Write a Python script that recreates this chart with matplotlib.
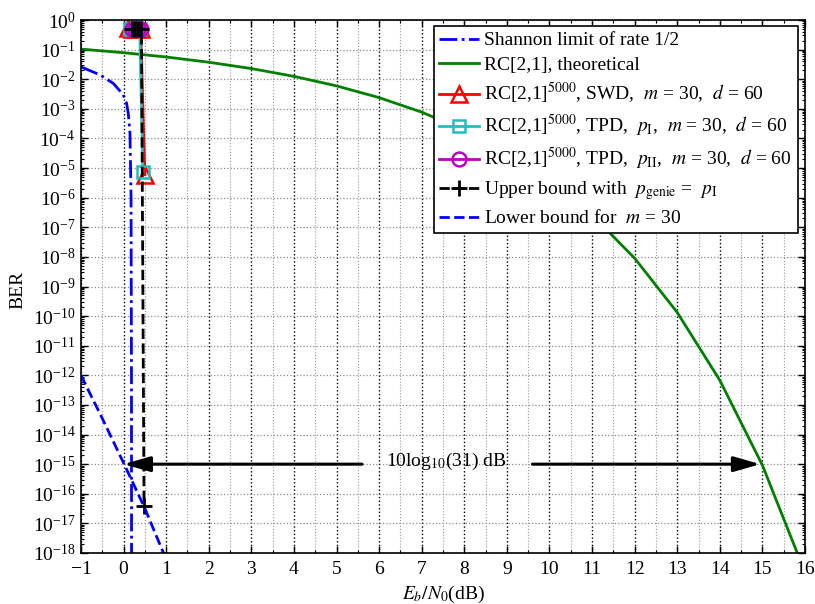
import numpy as np
import matplotlib
matplotlib.use("Agg")
import matplotlib.pyplot as plt
import matplotlib.ticker as ticker

# ---- data ----
# Shannon limit of rate 1/2
shannon_x = [-1.0, -0.55, -0.24, -0.01, 0.07, 0.11, 0.15, 0.175, 0.185, 0.187]
shannon_y = [2.6e-2, 1.4e-2, 7.2e-3, 3.0e-3, 1.55e-3, 7.0e-4, 1.5e-4, 1.0e-6, 1.0e-12, 1.0e-19]

# RC[2,1], theoretical
theo_x = [-1, 0, 1, 2, 3, 4, 5, 6, 7, 8, 9, 10, 11, 12, 13, 14, 15, 16]
theo_y = [0.104, 0.0786, 0.0563, 0.0375, 0.0229, 0.0125, 5.95e-3, 2.39e-3, 7.73e-4,
          1.91e-4, 3.36e-5, 3.87e-6, 2.61e-7, 9.0e-9, 1.33e-10, 6.8e-13, 9.2e-16, 2.2e-19]

# RC[2,1]^5000 SWD
swd_x = [0.1, 0.2, 0.3, 0.4, 0.5]
swd_y = [0.52, 0.5, 0.5, 0.48, 6.0e-6]

# RC[2,1]^5000 TPD, p_I
tpd1_x = [0.15, 0.22, 0.3, 0.38, 0.45]
tpd1_y = [0.5, 0.5, 0.5, 0.48, 7.5e-6]

# RC[2,1]^5000 TPD, p_II
tpd2_x = [0.2, 0.27, 0.35, 0.42]
tpd2_y = [0.5, 0.5, 0.5, 0.5]

# upper bound with p_genie = p_I
ub_x = [0.2, 0.27, 0.35, 0.42, 0.48]
ub_y = [0.5, 0.5, 0.5, 0.5, 4.0e-17]

# lower bound for m = 30
lb_x = [-1.0, -0.5, 0.0, 0.5, 1.0]
lb_y = [1.0e-12, 3.5e-14, 1.1e-15, 3.2e-17, 6.0e-19]

arrow_y = 1e-15
arrow_left = (5.6, 0.0)
arrow_right = (9.6, 14.95)

plt.rcParams['font.family'] = ['Liberation Serif', 'DejaVu Serif']
plt.rcParams['mathtext.fontset'] = 'stix'

fig = plt.figure(figsize=(8.15, 6.04), dpi=100)
ax = fig.add_axes([81/815, 51/604, 724/815, 533/604])

ax.plot(shannon_x, shannon_y, color='#0000ff', ls='-.', lw=2,
        label='Shannon limit of rate 1/2')
ax.plot(theo_x, theo_y, color='#008000', ls='-', lw=2,
        label='RC[2,1], theoretical')
ax.plot(swd_x, swd_y, color='#ff0000', ls='-', lw=2, marker='^', ms=11,
        mfc='none', mew=1.8,
        label=r'RC[2,1]$^{5000}$, SWD,  $m$ = 30,  $d$ = 60')
ax.plot(tpd1_x, tpd1_y, color='#1fbfbf', ls='-', lw=2, marker='s', ms=9,
        mfc='none', mew=1.8,
        label=r'RC[2,1]$^{5000}$, TPD,  $p_{\rm I}$,  $m$ = 30,  $d$ = 60')
ax.plot(tpd2_x, tpd2_y, color='#bf00bf', ls='-', lw=2, marker='o', ms=10,
        mfc='none', mew=1.8,
        label=r'RC[2,1]$^{5000}$, TPD,  $p_{\rm II}$,  $m$ = 30,  $d$ = 60')
ax.plot(ub_x, ub_y, color='k', ls='--', lw=2, marker='+', ms=12, mew=2,
        label=r'Upper bound with  $p_{\rm genie}$ =  $p_{\rm I}$')
ax.plot(lb_x, lb_y, color='#0000ff', ls='--', lw=2,
        label=r'Lower bound for  $m$ = 30')

# 10log10(31) dB arrows
aprops = dict(arrowstyle='-|>,head_length=1.15,head_width=0.33', lw=2.2,
              color='k', mutation_scale=14, shrinkA=0, shrinkB=0)
ax.annotate('', xy=(arrow_left[1], arrow_y), xytext=(arrow_left[0], arrow_y),
            arrowprops=aprops)
ax.annotate('', xy=(arrow_right[1], arrow_y), xytext=(arrow_right[0], arrow_y),
            arrowprops=aprops)
ax.text(7.57, 8.5e-16, r'10log$_{10}$(31) dB', ha='center', va='baseline',
        fontsize=14)

ax.set_yscale('log')
ax.set_xlim(-1, 16)
ax.set_ylim(1e-18, 1)
ax.xaxis.set_major_locator(ticker.MultipleLocator(1))
ax.xaxis.set_minor_locator(ticker.MultipleLocator(0.5))
ax.yaxis.set_major_locator(ticker.LogLocator(base=10, numticks=30))
ax.yaxis.set_minor_locator(ticker.LogLocator(base=10, subs=np.arange(2, 10), numticks=30))
ax.yaxis.set_minor_formatter(ticker.NullFormatter())

ax.tick_params(which='both', direction='in', top=True, right=True, labelsize=14)
ax.tick_params(which='major', length=5, width=1)
ax.tick_params(which='minor', length=2.5, width=0.8)
ax.tick_params(axis='x', pad=6)
ax.tick_params(axis='y', pad=4)
for sp in ax.spines.values():
    sp.set_linewidth(1.2)

ax.grid(which='major', axis='x', color='k', ls=':', lw=1)
ax.grid(which='minor', axis='x', color='0.6', ls=':', lw=0.8)
ax.grid(which='major', axis='y', color='0.55', ls=':', lw=0.9)

ax.set_xlabel(r'$E_b/N_0$(dB)', fontsize=14)
ax.set_ylabel('BER', fontsize=14)
ax.xaxis.set_label_coords(0.501, -0.058)
ax.yaxis.set_label_coords(-0.075, 0.493)

leg = ax.legend(loc='upper right', bbox_to_anchor=(0.990, 0.989), fontsize=14,
                numpoints=1, handlelength=2.05, handletextpad=0.25,
                borderaxespad=0, borderpad=0.3, labelspacing=0.36,
                fancybox=False, framealpha=1)
leg.get_frame().set_edgecolor('k')
leg.get_frame().set_linewidth(1.2)

fig.savefig('out.png', dpi=100)
